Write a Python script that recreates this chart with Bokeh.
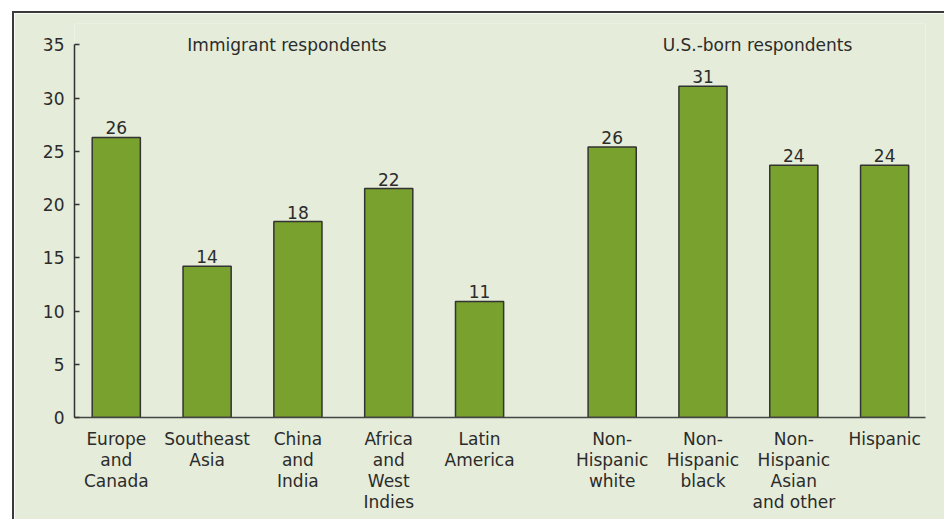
from bokeh.plotting import figure
from bokeh.models import ColumnDataSource, FixedTicker, Range1d
from bokeh.embed import file_html
from bokeh.resources import INLINE
from bokeh.core.properties import value

# ---- data ----
group_titles = ["Immigrant respondents", "U.S.-born respondents"]
categories = ["Europe\nand\nCanada", "Southeast\nAsia", "China\nand\nIndia",
              "Africa\nand\nWest\nIndies", "Latin\nAmerica",
              "Non-\nHispanic\nwhite", "Non-\nHispanic\nblack",
              "Non-\nHispanic\nAsian\nand other", "Hispanic"]
category_group = [0, 0, 0, 0, 0, 1, 1, 1, 1]
values = [26.3, 14.2, 18.4, 21.5, 10.9, 25.4, 31.1, 23.7, 23.7]
value_labels = ["26", "14", "18", "22", "11", "26", "31", "24", "24"]
y_ticks = [0, 5, 10, 15, 20, 25, 30, 35]

# ---- layout helpers ----
GROUP_GAP = 0.46
xs = [i + GROUP_GAP * g for i, g in enumerate(category_group)]
group_centers = []
for g in range(len(group_titles)):
    gx = [x for x, gg in zip(xs, category_group) if gg == g]
    group_centers.append(sum(gx) / len(gx))
title_x = [group_centers[0] - 0.12, group_centers[1] + 0.1]

FONT = "DejaVu Sans"
TXT = "#2b2b2b"
BG = "#e5ecd9"
BAR = "#78a12e"

p = figure(width=932, height=508, output_backend="svg", toolbar_location=None,
           x_range=Range1d(-0.46, 8.91), y_range=Range1d(0, 37),
           min_border_left=60, min_border_right=21, min_border_top=10,
           min_border_bottom=104)
p.margin = (11, 0, 0, 12)
p.styles = {"border-top": "2px solid #3a3a3a", "border-left": "2px solid #3a3a3a"}
p.background_fill_color = BG
p.border_fill_color = BG
p.outline_line_color = None
p.grid.visible = False

src = ColumnDataSource(dict(x=xs, top=values, lab=value_labels))
p.vbar(x="x", top="top", width=0.53, bottom=0, source=src,
       fill_color=BAR, line_color="#333333", line_width=1.5)
p.text(x="x", y="top", text="lab", source=src, text_align="center",
       text_baseline="bottom", y_offset=-3, text_font=value(FONT),
       text_font_size="17px", text_color=TXT)
p.text(x=title_x, y=[35, 35], text=group_titles, text_align="center",
       text_baseline="middle", text_font=value(FONT), text_font_size="17px",
       text_color=TXT)

# y axis
ya = p.yaxis[0]
ya.ticker = FixedTicker(ticks=y_ticks)
ya.bounds = (0, 35)
ya.minor_tick_line_color = None
ya.major_tick_in = 5
ya.major_tick_out = 0
ya.major_label_standoff = 10
ya.axis_line_color = "#333333"
ya.axis_line_width = 1.5
ya.major_tick_line_color = "#333333"
ya.major_tick_line_width = 1.5
ya.major_label_text_font = FONT
ya.major_label_text_font_size = "17px"
ya.major_label_text_color = TXT

# x axis
xa = p.xaxis[0]
xa.ticker = FixedTicker(ticks=xs)
xa.major_label_overrides = {x: c for x, c in zip(xs, categories)}
xa.major_tick_line_color = None
xa.minor_tick_line_color = None
xa.major_tick_in = 0
xa.major_tick_out = 0
xa.major_label_standoff = 11
xa.axis_line_color = "#444444"
xa.axis_line_width = 1.5
xa.major_label_text_font = FONT
xa.major_label_text_font_size = "17px"
xa.major_label_text_color = TXT
xa.major_label_text_line_height = 1.05

open("out.html", "w").write(file_html(p, INLINE))
